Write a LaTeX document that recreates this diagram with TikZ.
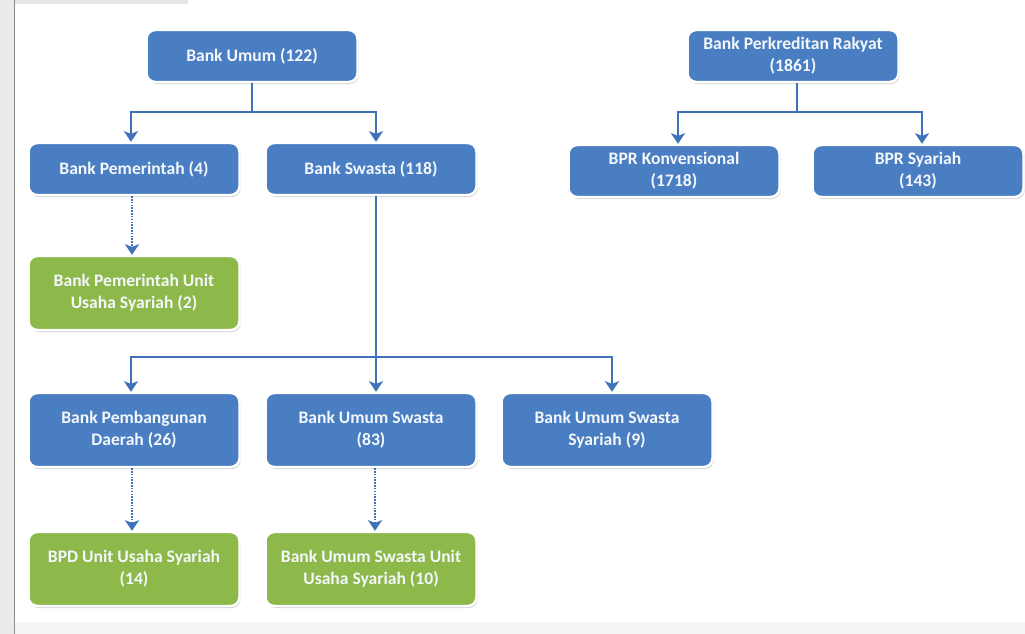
\documentclass[tikz,border=0pt]{standalone}
\usepackage{fontspec}
\setmainfont{Carlito}
\usetikzlibrary{arrows.meta,shadows,calc}
\definecolor{boxblue}{HTML}{4A7EC2}
\definecolor{boxgreen}{HTML}{8DB84A}
\definecolor{linkblue}{HTML}{3F72B8}
\definecolor{txtwhite}{HTML}{F4F7FB}
\begin{document}
\begin{tikzpicture}[x=0.02cm,y=-0.02cm,
  box/.style={rounded corners=5pt, draw=white, line width=1.4pt, text=txtwhite,
    font=\bfseries\fontsize{10}{12.5}\selectfont, align=center,
    minimum width=4.22cm, inner sep=0pt,
    drop shadow={opacity=0.3,shadow xshift=0.7pt,shadow yshift=-1.2pt}},
  shortbox/.style={box, minimum height=1.04cm},
  tallbox/.style={box, minimum height=1.48cm},
  bluebox/.style={fill=boxblue},
  greenbox/.style={fill=boxgreen},
  link/.style={draw=linkblue, line width=1.5pt},
  arr/.style={link, -{Stealth[length=6pt,width=8pt,inset=1.5pt]}},
  dotarr/.style={draw=linkblue, line width=1.7pt, dash pattern=on 0.9pt off 0.7pt,
    -{Stealth[length=6pt,width=8pt,inset=1.5pt]}}
]
\useasboundingbox (0,0) rectangle (1025,634);
\fill[white] (0,0) rectangle (1025,634);
% screenshot edges
\fill[black!8] (0,0) rectangle (14,634);
\draw[black!45, line width=0.6pt] (14.5,0) -- (14.5,634);
\fill[black!4] (15,622) rectangle (1025,634);
\fill[black!10] (15,0) rectangle (188,4);

% nodes
\node[shortbox,bluebox] (bu)  at (252,56)  {Bank Umum (122)};
\node[shortbox,bluebox] (bpr) at (793,56)  {Bank Perkreditan Rakyat\\(1861)};
\node[shortbox,bluebox] (bp)  at (134,169) {Bank Pemerintah (4)};
\node[shortbox,bluebox] (bs)  at (371,169) {Bank Swasta (118)};
\node[shortbox,bluebox] (bk)  at (674,171) {BPR Konvensional\\(1718)};
\node[shortbox,bluebox] (bsy) at (918,171) {BPR Syariah\\(143)};
\node[tallbox,greenbox] (bpus) at (134,293) {Bank Pemerintah Unit\\Usaha Syariah (2)};
\node[tallbox,bluebox]  (bpd)  at (134,430) {Bank Pembangunan\\Daerah (26)};
\node[tallbox,bluebox]  (bus)  at (371,430) {Bank Umum Swasta\\(83)};
\node[tallbox,bluebox]  (buss) at (607,430) {Bank Umum Swasta\\Syariah (9)};
\node[tallbox,greenbox] (bpdu) at (134,569) {BPD Unit Usaha Syariah\\(14)};
\node[tallbox,greenbox] (busu) at (371,569) {Bank Umum Swasta Unit\\Usaha Syariah (10)};

% connectors: Bank Umum
\coordinate (j1) at (252,112);
\draw[link] (bu.south) -- (j1);
\draw[arr] (j1) -| ($(bp.north)+(-3,0)$);
\draw[arr] (j1) -| ($(bs.north)+(5,0)$);

% Bank Swasta
\coordinate (j2) at (376,357);
\draw[arr] ($(bs.south)+(5,0)$) -- ($(bus.north)+(5,0)$);
\draw[arr] (j2) -| ($(bpd.north)+(-3,0)$);
\draw[arr] (j2) -| ($(buss.north)+(5,0)$);

% BPR
\coordinate (j3) at (797,112);
\draw[link] ($(bpr.south)+(4,0)$) -- (j3);
\draw[arr] (j3) -| ($(bk.north)+(4,0)$);
\draw[arr] (j3) -| ($(bsy.north)+(4,0)$);

% dotted
\draw[dotarr] ($(bp.south)+(-2,0)$) -- ($(bpus.north)+(-2,0)$);
\draw[dotarr] ($(bpd.south)+(-2,0)$) -- ($(bpdu.north)+(-2,0)$);
\draw[dotarr] ($(bus.south)+(4,0)$) -- ($(busu.north)+(4,0)$);
\end{tikzpicture}
\end{document}
